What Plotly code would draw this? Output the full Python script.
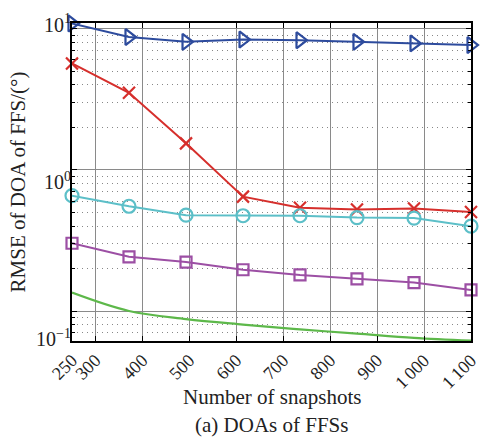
import plotly.graph_objects as go

# Number of snapshots (eight evenly spaced runs between 250 and 1100)
snapshots = [250, 371.4, 492.9, 614.3, 735.7, 857.1, 978.6, 1100]

# RMSE of the FFS DOA estimates for each method
rmse_blue = [10.87, 8.72, 8.06, 8.37, 8.28, 8.06, 7.86, 7.65]
rmse_red = [5.67, 3.51, 1.54, 0.646, 0.538, 0.524, 0.532, 0.502]
rmse_cyan = [0.656, 0.552, 0.477, 0.473, 0.473, 0.459, 0.455, 0.399]
rmse_purple = [0.302, 0.242, 0.222, 0.196, 0.180, 0.169, 0.159, 0.141]
rmse_green = [0.135, 0.100, 0.0877, 0.0802, 0.0741, 0.0692, 0.0646, 0.0616]

x_tickvals = [250, 300, 400, 500, 600, 700, 800, 900, 1000, 1100]
x_ticktext = ["250", "300", "400", "500", "600", "700", "800", "900",
              "1\u2009000", "1\u2009100"]

y_gridvals = [0.1, 1, 10]
y_minorvals = [0.07, 0.08, 0.09, 0.2, 0.3, 0.4, 0.5, 0.6, 0.7, 0.8, 0.9,
               2, 3, 4, 5, 6, 7, 8, 9]
y_labelvals = [0.1, 1, 10]
y_labeltext = ["10<sup>\u22121</sup>", "10<sup>0</sup>", "10<sup>1</sup>"]

FONT = "Liberation Serif"

fig = go.Figure()

series = [
    (rmse_blue, "#2D4B9D", "triangle-right-open", 14),
    (rmse_red, "#D62F2C", "x-thin-open", 12),
    (rmse_cyan, "#5CBFC8", "circle-open", 13),
    (rmse_purple, "#9C4FA4", "square-open", 11),
]
for vals, color, symbol, size in series:
    fig.add_trace(go.Scatter(
        x=snapshots, y=vals, mode="lines+markers",
        line=dict(color=color, width=2),
        marker=dict(symbol=symbol, size=size, color=color,
                    line=dict(color=color, width=2.2)),
        cliponaxis=False, showlegend=False,
    ))

fig.add_trace(go.Scatter(
    x=snapshots, y=rmse_green, mode="lines", line_shape="spline",
    line=dict(color="#5DB84A", width=2.2),
    cliponaxis=False, showlegend=False,
))

# invisible trace so the label axis is drawn
fig.add_trace(go.Scatter(x=[], y=[], yaxis="y2", showlegend=False))

fig.update_layout(
    width=492, height=441,
    margin=dict(l=72, r=20, t=12, b=100),
    paper_bgcolor="white", plot_bgcolor="white",
    font=dict(family=FONT, size=18, color="#222"),
    xaxis=dict(
        range=[250, 1100], tickmode="array",
        tickvals=x_tickvals, ticktext=x_ticktext,
        tickangle=-45, tickfont=dict(size=18),
        showgrid=True, gridcolor="#8a8a8a", gridwidth=1.2,
        showline=True, linecolor="black", linewidth=1.6, mirror="ticks",
        ticks="inside", ticklen=5, tickcolor="black",
        zeroline=False,
    ),
    yaxis=dict(
        type="log", range=[-1.2125, 1.04],
        tickmode="array", tickvals=y_gridvals, showticklabels=False,
        showgrid=True, gridcolor="#8a8a8a", gridwidth=1.2,
        showline=True, linecolor="black", linewidth=1.6, mirror="ticks",
        ticks="inside", ticklen=5, tickcolor="black",
        zeroline=False,
        minor=dict(tickvals=y_minorvals, showgrid=True, griddash="1px,4px",
                   gridcolor="#888888", gridwidth=1.2,
                   ticks="inside", ticklen=3, tickcolor="black"),
    ),
    yaxis2=dict(
        type="log", range=[-1.012, 1.012], overlaying="y", side="left",
        anchor="x", tickmode="array", tickvals=y_labelvals,
        ticktext=y_labeltext, tickfont=dict(size=20),
        showgrid=False, showline=False, ticks="", zeroline=False,
        title=dict(text="RMSE of DOA of FFS/(\u00b0)", font=dict(size=21),
                   standoff=4),
    ),
    annotations=[
        dict(text="Number of snapshots", xref="paper", yref="paper",
             x=0.5, y=-0.175, xanchor="center", yanchor="middle",
             showarrow=False, font=dict(size=21)),
        dict(text="(a) DOAs of FFSs", xref="paper", yref="paper",
             x=0.5, y=-0.264, xanchor="center", yanchor="middle",
             showarrow=False, font=dict(size=21)),
    ],
)

fig.write_html("out.html")
